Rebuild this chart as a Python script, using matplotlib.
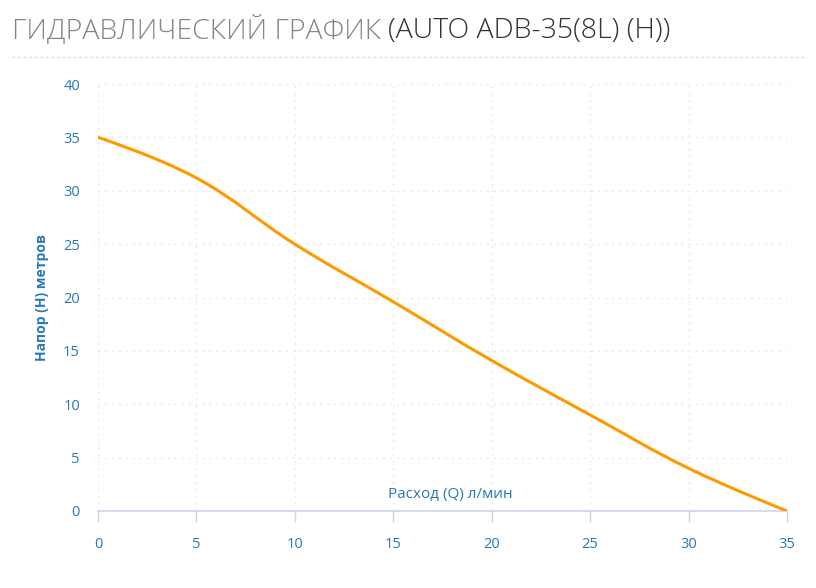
import matplotlib
matplotlib.use("Agg")
import matplotlib.pyplot as plt
from matplotlib.path import Path
from matplotlib.patches import PathPatch

# Data
flow = [0, 5, 10, 15, 20, 25, 30, 35]
head = [35, 31.2, 25.0, 19.6, 14.1, 9.0, 4.0, 0]
x_ticks = [0, 5, 10, 15, 20, 25, 30, 35]
y_ticks = [0, 5, 10, 15, 20, 25, 30, 35, 40]
title_main = "ГИДРАВЛИЧЕСКИЙ ГРАФИК "
title_model = "(AUTO ADB-35(8L) (H))"
x_label = "Расход (Q) л/мин"
y_label = "Напор (H) метров"

BLUE = "#2779b8"
FONT = ["Open Sans", "DejaVu Sans"]
plt.rcParams['font.family'] = FONT

W, H = 816, 588
fig = plt.figure(figsize=(W / 100, H / 100), dpi=100)
ax = fig.add_axes([98 / W, 1 - 511 / H, (787 - 98) / W, (511 - 84) / H])
ax.set_xlim(0, 35)
ax.set_ylim(0, 40)


def spline_path(xs, ys, smoothing=1.5):
    # Highcharts-like spline: cubic Bezier segments through the data points
    n = len(xs)
    denom = smoothing + 1
    left = [None] * n
    right = [None] * n
    for i in range(n):
        if 0 < i < n - 1:
            lx = (smoothing * xs[i] + xs[i - 1]) / denom
            ly = (smoothing * ys[i] + ys[i - 1]) / denom
            rx = (smoothing * xs[i] + xs[i + 1]) / denom
            ry = (smoothing * ys[i] + ys[i + 1]) / denom
            corr = ((ry - ly) * (rx - xs[i])) / (rx - lx) + ys[i] - ry
            ly += corr
            ry += corr
            left[i] = (lx, ly)
            right[i] = (rx, ry)
        else:
            left[i] = (xs[i], ys[i])
            right[i] = (xs[i], ys[i])
    verts = [(xs[0], ys[0])]
    codes = [Path.MOVETO]
    for i in range(1, n):
        verts += [right[i - 1], left[i], (xs[i], ys[i])]
        codes += [Path.CURVE4] * 3
    return Path(verts, codes)


# grid
for v in x_ticks:
    ax.axvline(v, color="#e0e0e0", lw=1, ls=(0, (1, 4)), zorder=0)
for v in y_ticks[1:]:
    ax.axhline(v, color="#e0e0e0", lw=1, ls=(0, (1, 4)), zorder=0)

patch = PathPatch(spline_path(flow, head), facecolor="none", edgecolor="#ff9900",
                  lw=2.2, zorder=3, capstyle="round", joinstyle="round")
ax.add_patch(patch)

for s in ["top", "right", "left"]:
    ax.spines[s].set_visible(False)
ax.spines["bottom"].set_color("#ccd6eb")
ax.spines["bottom"].set_linewidth(1.2)

ax.set_xticks(x_ticks)
ax.set_yticks(y_ticks)
ax.tick_params(axis="x", direction="out", length=8, width=1, color="#ccd6eb",
               labelcolor=BLUE, labelsize=10.5, pad=11)
ax.tick_params(axis="y", length=0, labelcolor=BLUE, labelsize=10.5, pad=13)

ax.text((450 - 98) / (787 - 98), 9 / (511 - 84), x_label, transform=ax.transAxes,
        ha="center", va="bottom", color=BLUE, fontsize=11)
fig.text(42 / W, 1 - 298 / H, y_label, rotation=90, ha="center", va="center",
         color=BLUE, fontsize=10, fontweight="bold")

# title in two colors
t1 = fig.text(12 / W, 1 - 38 / H, title_main, color="#858585", fontsize=20.5,
              fontweight="light", va="baseline", ha="left")
fig.canvas.draw()
bb = t1.get_window_extent()
fig.text(bb.x1 / W, 1 - 38 / H, title_model, color="#333333", fontsize=20.5,
         fontweight="light", va="baseline", ha="left")

# dotted separator
fig.add_artist(plt.Line2D([12 / W, 806 / W], [1 - 57 / H, 1 - 57 / H],
                          transform=fig.transFigure, color="#dddddd", lw=1,
                          ls=(0, (2, 2))))

fig.savefig("out.png", dpi=100)
